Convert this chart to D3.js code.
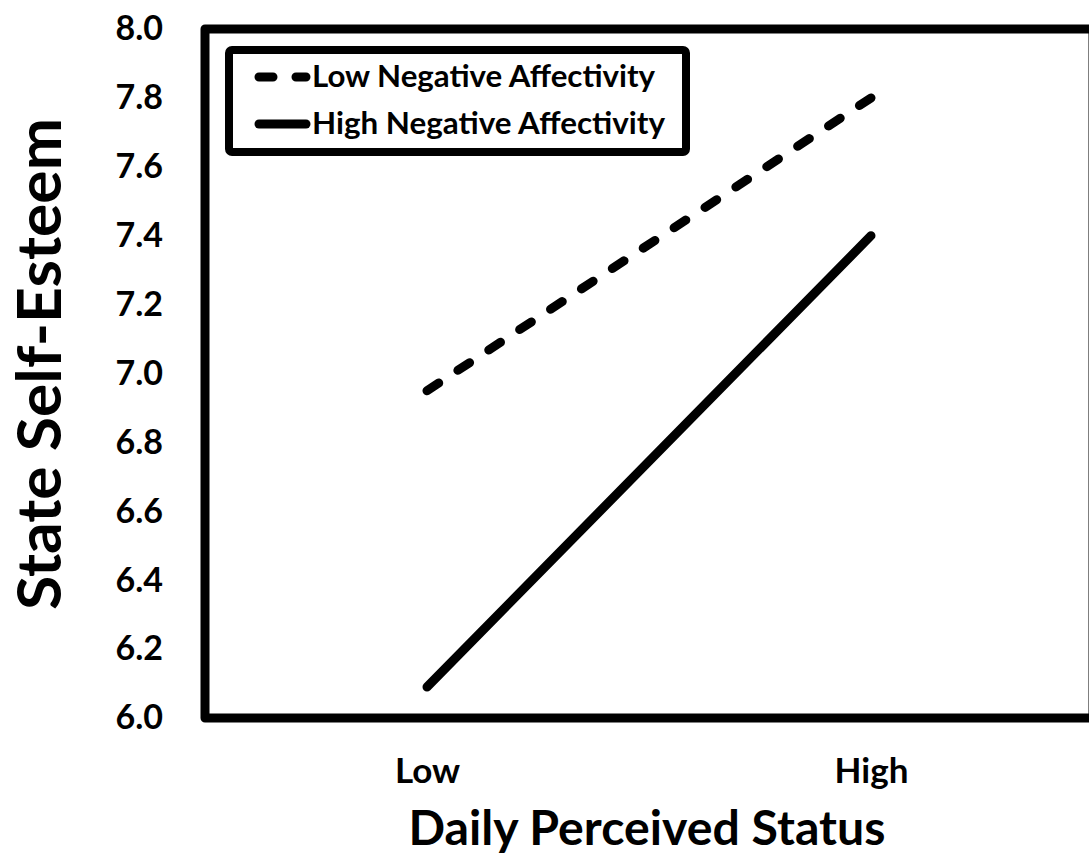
<!DOCTYPE html>
<html>
<head>
<meta charset="utf-8">
<script src="https://cdn.jsdelivr.net/npm/d3@7"></script>
<style>
  body { margin: 0; background: #fff; }
  text { font-family: Lato, "Open Sans", sans-serif; font-weight: bold; fill: #000; }
</style>
</head>
<body>
<svg width="1089" height="858"></svg>
<script>
// Datos
const categories = ["Low", "High"];
const lowNegAff = [6.95, 7.80];
const highNegAff = [6.09, 7.40];
const yTicks = [6.0, 6.2, 6.4, 6.6, 6.8, 7.0, 7.2, 7.4, 7.6, 7.8, 8.0];
const seriesNames = ["Low Negative Affectivity", "High Negative Affectivity"];

const svg = d3.select("svg");

svg.append("rect").attr("width", 1089).attr("height", 858).attr("fill", "#fff");

// Escalas
const x = d3.scalePoint().domain(categories).range([205, 1093]).padding(0.5);
const y = d3.scaleLinear().domain([6, 8]).range([718, 29]);

// Marco del área de trazado
svg.append("rect")
  .attr("x", 205).attr("y", y(8))
  .attr("width", 888).attr("height", y(6) - y(8))
  .attr("fill", "none")
  .attr("stroke", "#000")
  .attr("stroke-width", 9)
  .attr("stroke-linejoin", "round");

// Eje Y
const yAxis = svg.append("g")
  .attr("transform", "translate(205,0)")
  .call(d3.axisLeft(y).tickValues(yTicks).tickFormat(d3.format(".1f")).tickSize(0).tickPadding(42));
yAxis.select(".domain").remove();
yAxis.selectAll("text")
  .style("font-family", "Lato, sans-serif")
  .style("font-weight", "bold")
  .style("font-size", "34px");

// Eje X
const xAxis = svg.append("g")
  .attr("transform", "translate(0,718)")
  .call(d3.axisBottom(x).tickSize(0));
xAxis.select(".domain").remove();
xAxis.selectAll("text")
  .attr("y", 65)
  .attr("dy", null)
  .style("font-family", "Lato, sans-serif")
  .style("font-weight", "bold")
  .style("font-size", "35px");

// Títulos de los ejes
svg.append("text")
  .attr("x", 647).attr("y", 845)
  .attr("text-anchor", "middle")
  .style("font-size", "47px")
  .attr("textLength", 477)
  .attr("lengthAdjust", "spacingAndGlyphs")
  .text("Daily Perceived Status");

svg.append("text")
  .attr("transform", "translate(61,364) rotate(-90)")
  .attr("text-anchor", "middle")
  .style("font-size", "61px")
  .attr("textLength", 492)
  .attr("lengthAdjust", "spacingAndGlyphs")
  .text("State Self-Esteem");

// Líneas
const line = d3.line()
  .x((d, i) => x(categories[i]))
  .y(d => y(d));

svg.append("path")
  .datum(lowNegAff)
  .attr("d", line)
  .attr("fill", "none")
  .attr("stroke", "#000")
  .attr("stroke-width", 9)
  .attr("stroke-linecap", "round")
  .attr("stroke-dasharray", "14,23");

svg.append("path")
  .datum(highNegAff)
  .attr("d", line)
  .attr("fill", "none")
  .attr("stroke", "#000")
  .attr("stroke-width", 9)
  .attr("stroke-linecap", "round");

// Leyenda
const legend = svg.append("g");
legend.append("rect")
  .attr("x", 229).attr("y", 50)
  .attr("width", 457).attr("height", 102)
  .attr("rx", 3)
  .attr("fill", "#fff")
  .attr("stroke", "#000")
  .attr("stroke-width", 8);

const items = legend.selectAll("g.item")
  .data(seriesNames)
  .join("g")
  .attr("class", "item")
  .attr("transform", (d, i) => `translate(0,${i * 47})`);

items.append("line")
  .attr("x1", 259).attr("x2", 306)
  .attr("y1", 77).attr("y2", 77)
  .attr("stroke", "#000")
  .attr("stroke-width", 9)
  .attr("stroke-linecap", "round")
  .attr("stroke-dasharray", (d, i) => i === 0 ? "14,23" : null);

items.append("text")
  .attr("x", 312).attr("y", 87)
  .style("font-size", "30px")
  .attr("textLength", (d, i) => i === 0 ? 343 : 353)
  .attr("lengthAdjust", "spacingAndGlyphs")
  .text(d => d);
</script>
</body>
</html>
